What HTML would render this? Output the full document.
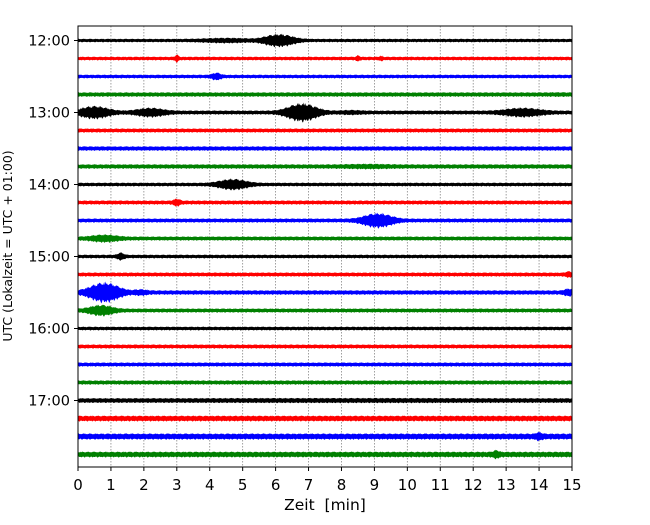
<!DOCTYPE html>
<html><head><meta charset="utf-8"><style>
body{margin:0;background:#fff;}
svg text{font-family:"DejaVu Sans","Liberation Sans",sans-serif;}
</style></head><body>
<svg id="c" width="650" height="520" xmlns="http://www.w3.org/2000/svg">
<rect width="650" height="520" fill="#fff"/>
</svg>
<script>
const hourLabels=["12:00","13:00","14:00","15:00","16:00","17:00"];
const xTicks=[0,1,2,3,4,5,6,7,8,9,10,11,12,13,14,15];
const traceColors=["#000","#f00","#00f","#008000"];
const noiseLevels=[1.9,2,2,2.4,2.2,2.2,2.4,2.4,2,2.2,2.2,2.2,2,2.2,2.4,2.2,2,2.2,2.2,2.3,2.6,3.1,3.3,3.1];
const events=[
 [[6.1,7,0.6],[4.5,2.5,1]],
 [[3.0,4,0.08],[8.5,3,0.08],[9.2,2.5,0.08]],
 [[4.2,4,0.2]],
 [[14.6,1,0.5]],
 [[0.5,7,0.6],[2.2,5,0.6],[6.8,10,0.6],[13.5,5,0.8],[8.3,2,0.5]],
 [],[],
 [[8.8,2,1]],
 [[4.7,6,0.6]],
 [[3.0,4,0.15]],
 [[9.1,8,0.6]],
 [[0.8,4,0.6]],
 [[1.3,4,0.15]],
 [[14.9,3,0.15]],
 [[0.8,11,0.6],[1.9,3,0.3],[14.9,4,0.2]],
 [[0.7,6,0.5]],
 [],[],[],[],
 [[6.5,1,4],[10,1,3]],
 [],
 [[14.0,4,0.15]],
 [[12.7,4,0.15]]
];
const NS="http://www.w3.org/2000/svg";
const svg=document.getElementById('c');
const L=78,R=572,T=26,B=467,y0=40.5,dy=18;
const X=m=>L+(R-L)*m/15;
const Y=i=>y0+i*dy;
function mk(tag,attrs){const e=document.createElementNS(NS,tag);for(const k in attrs)e.setAttribute(k,attrs[k]);svg.appendChild(e);return e;}
for(let m=1;m<15;m++){
 const g=mk('line',{x1:X(m),x2:X(m),y1:T,y2:B,stroke:'#888','stroke-width':0.8,'stroke-dasharray':'1.5,1.5'});
 
 
}
for(let i=0;i<noiseLevels.length;i++){
 const top=[],bot=[];
 const n=700;
 for(let k=0;k<=n;k++){
  const t=15*k/n;
  let a2=noiseLevels[i]*noiseLevels[i];
  for(const ev of events[i]){const v=ev[1]*Math.exp(-Math.pow((t-ev[0])/ev[2],2));a2+=v*v;}
  const a=Math.sqrt(a2);
  const tex1=0.65+0.35*Math.abs(Math.sin(k*1.7+i)*Math.cos(k*0.37+i));
  const tex2=0.65+0.35*Math.abs(Math.sin(k*2.3+i*3)*Math.cos(k*0.53+i));
  top.push(X(t).toFixed(2)+','+(Y(i)-a*tex1).toFixed(2));
  bot.unshift(X(t).toFixed(2)+','+(Y(i)+a*tex2).toFixed(2));
 }
 const p=mk('polygon',{points:top.concat(bot).join(' '),fill:traceColors[i%4]});
 
 
}
const fr=mk('rect',{x:L,y:T,width:R-L,height:B-T,fill:'none',stroke:'#000','stroke-width':1});


hourLabels.forEach((h,j)=>{
 const y=Y(j*4);
 mk('line',{x1:L-4,x2:L,y1:y,y2:y,stroke:'#000'});
 const t=mk('text',{x:L-8,y:y+5,'text-anchor':'end','font-size':14.5});
 t.textContent=h;
 
 
});
xTicks.forEach(m=>{
 mk('line',{x1:X(m),x2:X(m),y1:B,y2:B+4,stroke:'#000'});
 const t=mk('text',{x:X(m),y:B+23,'text-anchor':'middle','font-size':15});
 t.textContent=m;
 
 
});
const xt=mk('text',{x:(L+R)/2,y:510,'text-anchor':'middle','font-size':15.5});
xt.textContent='Zeit\u00a0\u00a0[min]';


const yt=mk('text',{x:0,y:0,'text-anchor':'middle','font-size':12.5,transform:'translate(12,246) rotate(-90)'});
yt.textContent='UTC (Lokalzeit = UTC + 01:00)';


</script>
</body></html>
